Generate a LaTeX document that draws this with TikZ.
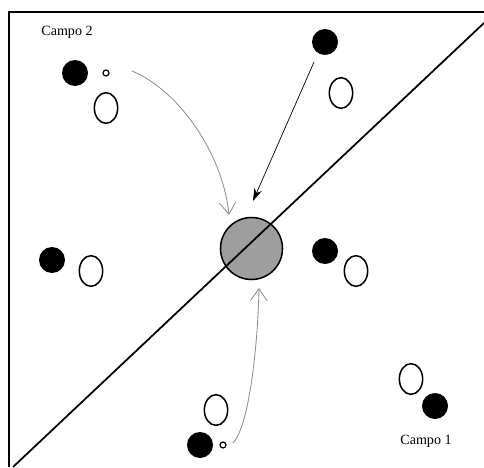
\documentclass[tikz,border=0pt]{standalone}
\usepackage{fontspec}
\setmainfont{Liberation Serif}
\usetikzlibrary{shapes.geometric,arrows.meta}
\begin{document}
\begin{tikzpicture}[x=0.03cm,y=0.03cm,
  dot/.style={circle,fill=black,minimum size=0.78cm,inner sep=0pt},
  ring/.style={ellipse,draw,line width=1.3pt,minimum width=0.7cm,minimum height=0.92cm,inner sep=0pt},
  tiny/.style={circle,draw,line width=1pt,minimum size=0.18cm,inner sep=0pt},
  lab/.style={font=\fontsize{12}{14}\selectfont},
  move/.style={draw=black!45,line width=0.7pt,-{Straight Barb[length=3.6mm,width=5mm]}}]
  \useasboundingbox (0,0) rectangle (484,467);
  % frame: only the top and left edges show
  \draw[line width=1.2pt] (9,0) -- (9,455) -- (484,455);
  % central target, the line runs over it
  \node[circle,draw,line width=1.3pt,fill=black!38,minimum size=1.86cm,inner sep=0pt] (big) at (251.5,218.5) {};
  \draw[line width=1.5pt] (13,0) -- (484,444);
  % field 2 (upper left)
  \node[lab] (c2) at (67,435) {Campo 2};
  \node[dot]  (d2) at (75,394) {};
  \node[tiny] (s2) at (106,394) {};
  \node[ring] (e2) at (106,359) {};
  \node[dot]  (d3) at (325,425) {};
  \node[ring] (e3) at (341,374) {};
  \node[dot]  (d4) at (52,207) {};
  \node[ring] (e4) at (91,196) {};
  % field 1 (lower right)
  \node[dot]  (d5) at (325,216) {};
  \node[ring] (e5) at (356,196) {};
  \node[ring] (e6) at (216,57) {};
  \node[dot]  (d6) at (200,22) {};
  \node[tiny] (s6) at (223,22) {};
  \node[ring] (e1) at (411,88) {};
  \node[dot]  (d1) at (435,61) {};
  \node[lab] (c1) at (426,26) {Campo 1};
  % moves towards the target
  \coordinate (m2) at (132,396);
  \coordinate (t2) at (229,252);
  \coordinate (m6) at (233,24);
  \coordinate (t6) at (259,179);
  \coordinate (m3) at (314,405);
  \coordinate (t3) at (253,266);
  \draw[move] (m2) .. controls (180,376) and (223,312) .. (t2);
  \draw[move] (m6) .. controls (250,42) and (258,127) .. (t6);
  \draw[line width=0.6pt,-{Stealth[length=3.8mm,width=2.4mm]}] (m3) -- (t3);
\end{tikzpicture}
\end{document}
